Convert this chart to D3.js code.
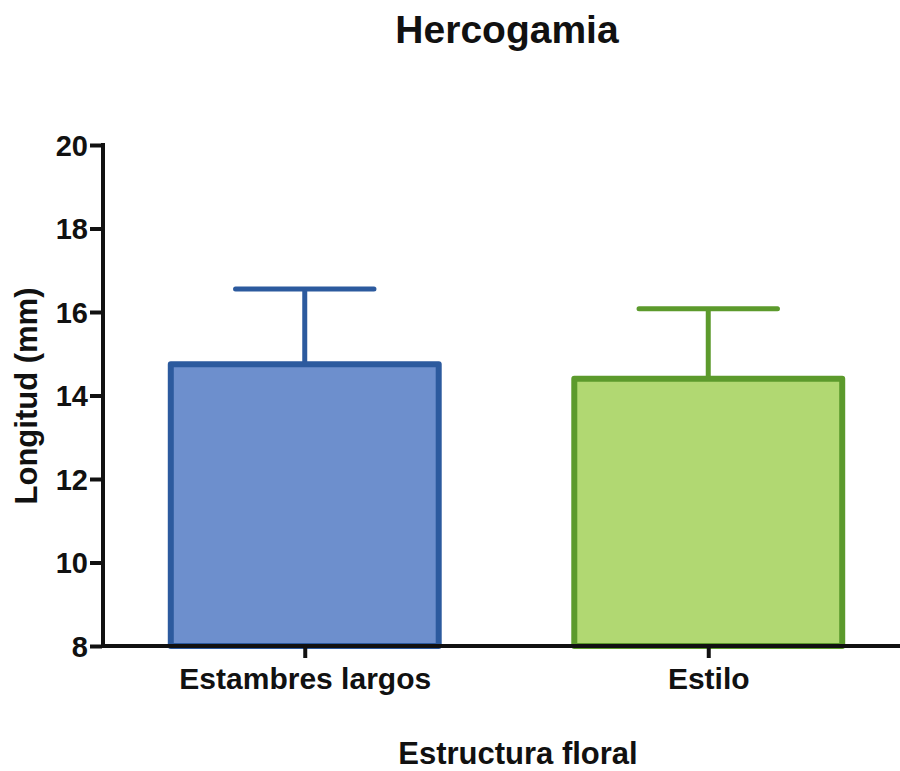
<!DOCTYPE html>
<html>
<head>
<meta charset="utf-8">
<script src="https://cdn.jsdelivr.net/npm/d3@7"></script>
<style>
  html, body { margin: 0; padding: 0; background: #fff; }
  text { font-family: "Liberation Sans", Arial, sans-serif; font-weight: bold; fill: #111; }
</style>
</head>
<body>
<svg id="chart" width="900" height="771"></svg>
<script>
const categories = ["Estambres largos", "Estilo"];
const means = [14.75, 14.4];
const errors = [1.8, 1.68];
const yTicks = [8, 10, 12, 14, 16, 18, 20];
const fills = ["#6d8fcd", "#b1d872"];
const strokes = ["#2c5a9e", "#5c9a2c"];
const title = "Hercogamia";
const xTitle = "Estructura floral";
const yTitle = "Longitud (mm)";

const svg = d3.select("#chart");
const margin = {left: 103, top: 145, bottom: 646, right: 910};

const x = d3.scalePoint().domain(categories).range([margin.left, margin.right]).padding(0.5);
const step = x.step();
const y = d3.scaleLinear().domain([8, 20]).range([margin.bottom, margin.top]);

const barW = step * 0.664;
const capW = step * 0.343;

const g = svg.append("g");
categories.forEach((c, i) => {
  const cx = x(c);
  g.append("line")
    .attr("x1", cx).attr("x2", cx)
    .attr("y1", y(means[i])).attr("y2", y(means[i] + errors[i]))
    .attr("stroke", strokes[i]).attr("stroke-width", 5);
  g.append("line")
    .attr("x1", cx - capW / 2).attr("x2", cx + capW / 2)
    .attr("y1", y(means[i] + errors[i])).attr("y2", y(means[i] + errors[i]))
    .attr("stroke", strokes[i]).attr("stroke-width", 5).attr("stroke-linecap", "round");
  g.append("rect")
    .attr("x", cx - barW / 2)
    .attr("y", y(means[i]))
    .attr("width", barW)
    .attr("height", y(8) - y(means[i]))
    .attr("fill", fills[i])
    .attr("stroke", strokes[i])
    .attr("stroke-width", 6)
    .attr("stroke-linejoin", "round");
});

const yAxis = d3.axisLeft(y).tickValues(yTicks).tickSize(13).tickPadding(2).tickFormat(d3.format("d"));
const ya = svg.append("g").attr("transform", `translate(${margin.left},0)`).call(yAxis);
ya.select(".domain").attr("stroke", "#111").attr("stroke-width", 4)
  .attr("d", `M0,${margin.top - 2}V${margin.bottom + 2}`);
ya.selectAll(".tick line").attr("stroke", "#111").attr("stroke-width", 4).attr("x1", -1);
ya.selectAll(".tick text").style("font-size", "29px").attr("dy", "0.36em").attr("fill", "#111");

const xAxis = d3.axisBottom(x).tickSize(12).tickPadding(10);
const xa = svg.append("g").attr("transform", `translate(0,${margin.bottom})`).call(xAxis);
xa.select(".domain").attr("stroke", "#111").attr("stroke-width", 4)
  .attr("d", `M${margin.left - 2},0H${margin.right}`);
xa.selectAll(".tick line").attr("stroke", "#111").attr("stroke-width", 4);
xa.selectAll(".tick text").style("font-size", "30px").attr("dy", "0.71em").attr("fill", "#111");

svg.append("text").attr("x", 507).attr("y", 43).attr("text-anchor", "middle")
  .style("font-size", "39px").text(title);
svg.append("text").attr("x", 518).attr("y", 764).attr("text-anchor", "middle")
  .style("font-size", "31px").text(xTitle);
svg.append("text").attr("transform", "translate(37,396) rotate(-90)").attr("text-anchor", "middle")
  .style("font-size", "31px").text(yTitle);
</script>
</body>
</html>
